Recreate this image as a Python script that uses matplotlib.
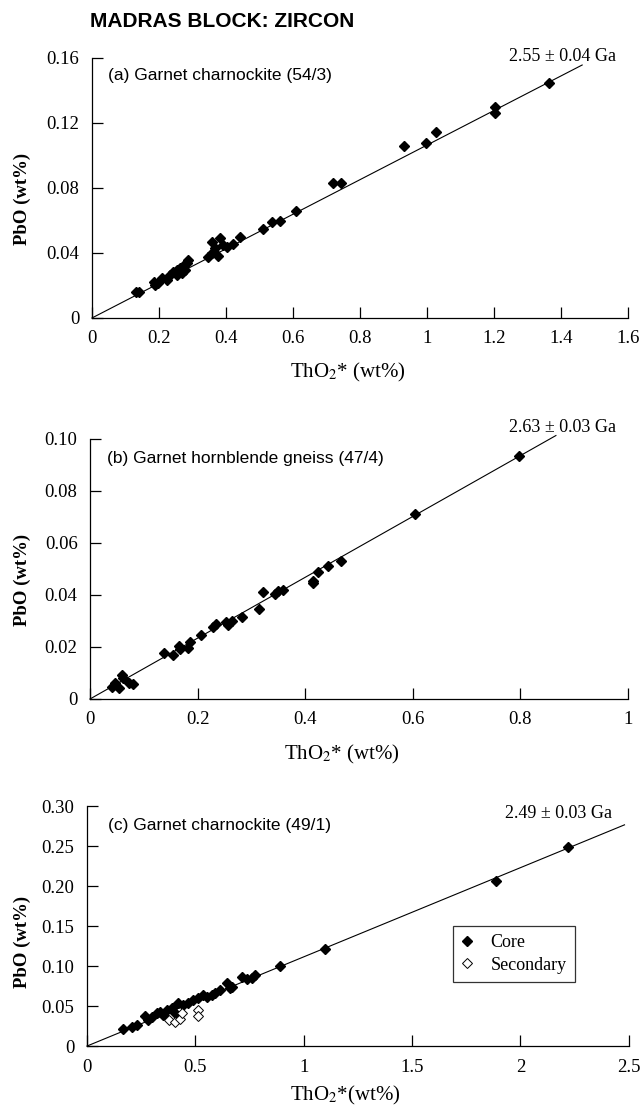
import numpy as np
import matplotlib
matplotlib.use("Agg")
import matplotlib.pyplot as plt

# --- DATA ---
# (a) Garnet charnockite (54/3)
tho2_a = [0.130, 0.140, 0.185, 0.188, 0.198, 0.208, 0.223, 0.233, 0.243, 0.253,
          0.253, 0.263, 0.268, 0.273, 0.278, 0.283, 0.288, 0.347, 0.357, 0.357,
          0.367, 0.377, 0.382, 0.392, 0.402, 0.422, 0.442, 0.511, 0.536, 0.561,
          0.609, 0.718, 0.742, 0.930, 0.996, 1.027, 1.202, 1.202, 1.365]
pbo_a = [0.0160, 0.0158, 0.0223, 0.0203, 0.0217, 0.0244, 0.0234, 0.0265, 0.0285, 0.0295,
         0.0265, 0.0306, 0.0275, 0.0320, 0.0295, 0.0337, 0.0357, 0.0377, 0.0398, 0.0470,
         0.0429, 0.0381, 0.0490, 0.0449, 0.0439, 0.0455, 0.0497, 0.0546, 0.0589, 0.0599,
         0.0660, 0.0833, 0.0833, 0.1058, 0.1075, 0.1145, 0.1300, 0.1260, 0.1448]

# (b) Garnet hornblende gneiss (47/4)
tho2_b = [0.040, 0.046, 0.053, 0.059, 0.062, 0.073, 0.079, 0.138, 0.154, 0.166,
          0.167, 0.183, 0.186, 0.206, 0.229, 0.235, 0.253, 0.257, 0.263, 0.282,
          0.315, 0.321, 0.344, 0.350, 0.358, 0.414, 0.414, 0.424, 0.443, 0.466,
          0.605, 0.797]
pbo_b = [0.0047, 0.0060, 0.0041, 0.0092, 0.0080, 0.0060, 0.0058, 0.0178, 0.0169, 0.0204,
         0.0191, 0.0195, 0.0220, 0.0246, 0.0276, 0.0288, 0.0297, 0.0285, 0.0301, 0.0317,
         0.0345, 0.0413, 0.0404, 0.0417, 0.0419, 0.0447, 0.0455, 0.0490, 0.0511, 0.0532,
         0.0710, 0.0935]

# (c) Garnet charnockite (49/1) - core and secondary analyses
tho2_c_core = [0.168, 0.206, 0.229, 0.268, 0.283, 0.298, 0.321, 0.337, 0.352, 0.370,
               0.391, 0.406, 0.421, 0.444, 0.467, 0.490, 0.513, 0.534, 0.552, 0.575,
               0.590, 0.613, 0.644, 0.660, 0.667, 0.714, 0.737, 0.760, 0.775, 0.890,
               1.098, 1.886, 2.221]
pbo_c_core = [0.0208, 0.0234, 0.0263, 0.0375, 0.0325, 0.0358, 0.0409, 0.0429, 0.0388, 0.0450,
              0.0471, 0.0417, 0.0533, 0.0513, 0.0533, 0.0575, 0.0596, 0.0638, 0.0617, 0.0638,
              0.0667, 0.0700, 0.0792, 0.0721, 0.0742, 0.0867, 0.0834, 0.0846, 0.0888, 0.1000,
              0.1213, 0.2067, 0.2484]
tho2_c_sec = [0.380, 0.405, 0.427, 0.440, 0.511, 0.511]
pbo_c_sec = [0.0330, 0.0304, 0.0333, 0.0410, 0.0455, 0.0380]

# isochron fits: slope and x extent of the drawn line
fit_slope = [0.1064, 0.1170, 0.1115]
fit_xmax = [1.463, 0.866, 2.48]
ages = ["2.55 ± 0.04 Ga", "2.63 ± 0.03 Ga", "2.49 ± 0.03 Ga"]
titles = ["(a) Garnet charnockite (54/3)",
          "(b) Garnet hornblende gneiss (47/4)",
          "(c) Garnet charnockite (49/1)"]

# axis ticks and labels
xticks_a = [0, 0.2, 0.4, 0.6, 0.8, 1.0, 1.2, 1.4, 1.6]
xlabels_a = ["0", "0.2", "0.4", "0.6", "0.8", "1", "1.2", "1.4", "1.6"]
yticks_a = [0, 0.04, 0.08, 0.12, 0.16]
ylabels_a = ["0", "0.04", "0.08", "0.12", "0.16"]
xticks_b = [0, 0.2, 0.4, 0.6, 0.8, 1.0]
xlabels_b = ["0", "0.2", "0.4", "0.6", "0.8", "1"]
yticks_b = [0, 0.02, 0.04, 0.06, 0.08, 0.10]
ylabels_b = ["0", "0.02", "0.04", "0.06", "0.08", "0.10"]
xticks_c = [0, 0.5, 1.0, 1.5, 2.0, 2.5]
xlabels_c = ["0", "0.5", "1", "1.5", "2", "2.5"]
yticks_c = [0, 0.05, 0.10, 0.15, 0.20, 0.25, 0.30]
ylabels_c = ["0", "0.05", "0.10", "0.15", "0.20", "0.25", "0.30"]

# --- STYLE ---
SERIF = "Liberation Serif"
SANS = "Liberation Sans"
plt.rcParams["font.family"] = SERIF
plt.rcParams["mathtext.fontset"] = "stix"
plt.rcParams["axes.linewidth"] = 0.9

fig = plt.figure(figsize=(6.42, 11.06), dpi=100)

ax_a = fig.add_axes([0.1433, 0.7125, 0.835, 0.2351])
ax_b = fig.add_axes([0.1402, 0.3680, 0.838, 0.2351])
ax_c = fig.add_axes([0.1355, 0.0542, 0.844, 0.2170])


def style_axes(ax, xt, xl, yt, yl, xlab, xlab_pos, ylab_pos):
    ax.spines["top"].set_visible(False)
    ax.spines["right"].set_visible(False)
    ax.set_xlim(xt[0], xt[-1])
    ax.set_ylim(yt[0], yt[-1])
    ax.set_xticks(xt)
    ax.set_xticklabels(xl)
    ax.set_yticks(yt)
    ax.set_yticklabels(yl)
    ax.tick_params(axis="both", direction="in", length=8, width=0.9,
                   labelsize=13.5)
    ax.tick_params(axis="x", pad=9)
    ax.tick_params(axis="y", pad=9)
    ax.set_xlabel(xlab, fontsize=15)
    ax.set_ylabel("PbO (wt%)", fontsize=13.5, fontweight="bold")
    ax.xaxis.set_label_coords(*xlab_pos)
    ax.yaxis.set_label_coords(*ylab_pos)


style_axes(ax_a, xticks_a, xlabels_a, yticks_a, ylabels_a, "ThO$_2$* (wt%)",
           (0.478, -0.165), (-0.114, 0.458))
style_axes(ax_b, xticks_b, xlabels_b, yticks_b, ylabels_b, "ThO$_2$* (wt%)",
           (0.468, -0.170), (-0.110, 0.458))
style_axes(ax_c, xticks_c, xlabels_c, yticks_c, ylabels_c, "ThO$_2$*(wt%)",
           (0.476, -0.158), (-0.103, 0.433))

axes = [ax_a, ax_b, ax_c]

# fitted isochron lines through the origin
for ax, s, xm in zip(axes, fit_slope, fit_xmax):
    xx = np.array([0.0, xm])
    ax.plot(xx, s * xx, color="black", lw=0.8, clip_on=False, zorder=2)

mk = dict(marker="D", ms=5.4, linestyle="none", zorder=3, clip_on=False)
ax_a.plot(tho2_a, pbo_a, color="black", **mk)
ax_b.plot(tho2_b, pbo_b, color="black", **mk)
ax_c.plot(tho2_c_core, pbo_c_core, color="black", label="Core", **mk)
ax_c.plot(tho2_c_sec, pbo_c_sec, markerfacecolor="white", markeredgecolor="black",
          markeredgewidth=0.7, label="Secondary", **mk)

# panel captions and ages
cap_pos = [(0.029, 0.931), (0.0325, 0.923), (0.038, 0.921)]
age_pos = [(0.978, 1.004), (0.978, 1.046), (0.969, 0.967)]
for ax, t, a, cp, ap in zip(axes, titles, ages, cap_pos, age_pos):
    ax.text(cp[0], cp[1], t, transform=ax.transAxes, family=SANS,
            fontsize=12.5, va="center", ha="left")
    ax.text(ap[0], ap[1], a, transform=ax.transAxes, fontsize=13,
            va="center", ha="right")

leg = ax_c.legend(loc="upper left", bbox_to_anchor=(0.676, 0.5),
                  borderaxespad=0, fontsize=13, frameon=True, fancybox=False,
                  edgecolor="black", handletextpad=1.0, handlelength=0.6,
                  borderpad=0.45, labelspacing=0.3)
leg.get_frame().set_linewidth(0.9)

fig.text(90 / 642, 1 - 27 / 1106, "MADRAS BLOCK: ZIRCON", family=SANS,
         fontsize=15, fontweight="bold", va="baseline", ha="left")

fig.savefig("out.png", dpi=100)
